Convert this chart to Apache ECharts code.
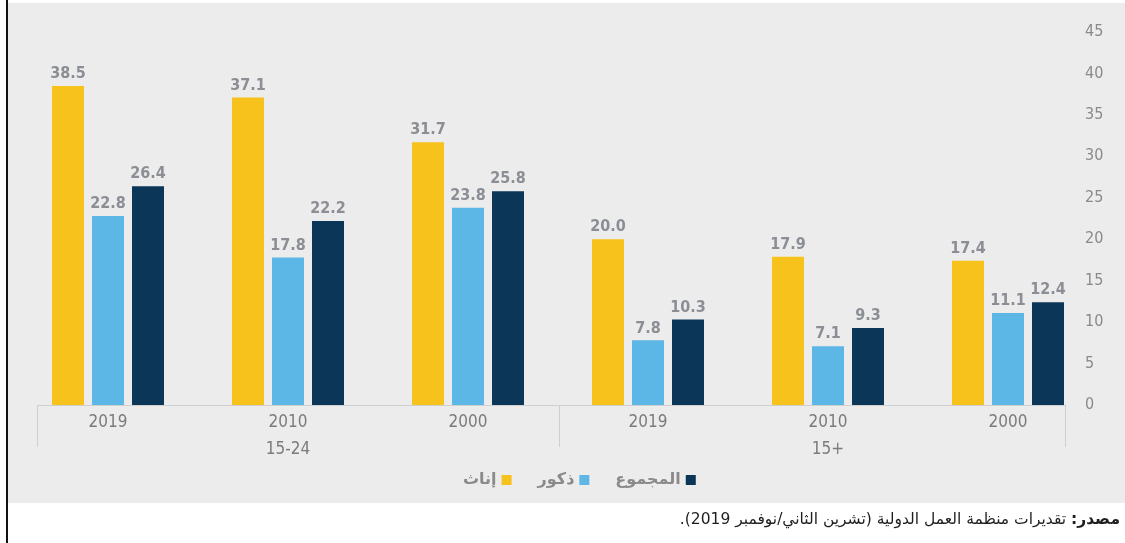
<!DOCTYPE html>
<html>
<head>
<meta charset="utf-8">
<script src="https://cdn.jsdelivr.net/npm/echarts@6/dist/echarts.min.js"></script>
<style>
  html, body { margin: 0; padding: 0; background: #ffffff; }
  #wrap { position: relative; width: 1125px; height: 543px; overflow: hidden; }
  #panel { position: absolute; left: 8px; top: 3px; width: 1117px; height: 500px; background: #ececec; }
  #rule { position: absolute; left: 6px; top: 0; width: 2px; height: 543px; background: #111; }
  #chart { position: absolute; left: 0; top: 0; width: 1125px; height: 543px; }
  #source { position: absolute; right: 5px; top: 510px; direction: rtl; font-family: 'DejaVu Sans', 'Noto Sans', sans-serif; font-size: 15.5px; color: #1e1e1e; white-space: nowrap; }
  #source b { font-weight: bold; }
</style>
</head>
<body>
<div id="wrap">
  <div id="panel"></div>
  <div id="rule"></div>
  <div id="chart"></div>
  <div id="source" dir="rtl"><b>مصدر:</b> تقديرات منظمة العمل الدولية (تشرين الثاني/نوفمبر 2019).</div>
</div>
<script>
// ---- data ----
var years = ['2019', '2010', '2000', '2019', '2010', '2000'];
var ageGroups = ['15-24', '15+'];
var seriesNames = ['إناث', 'ذكور', 'المجموع'];
var females = [38.5, 37.1, 31.7, 20.0, 17.9, 17.4];
var males = [22.8, 17.8, 23.8, 7.8, 7.1, 11.1];
var total = [26.4, 22.2, 25.8, 10.3, 9.3, 12.4];
var yTicks = { min: 0, max: 45, interval: 5 };

// ---- chart ----
var FONT = "'DejaVu Sans Condensed', 'Liberation Sans Narrow', 'Roboto', sans-serif";
var colors = ['#f7c21b', '#5cb6e6', '#0c3657'];
var chart = echarts.init(document.getElementById('chart'), null, { renderer: 'canvas' });

function barSeries(name, data, color) {
  return {
    name: name,
    type: 'bar',
    data: data,
    barWidth: 32,
    barGap: '25%',
    itemStyle: { color: color },
    label: {
      show: true,
      position: 'top',
      distance: 4,
      color: '#8b8e94',
      fontFamily: FONT,
      fontSize: 16,
      fontWeight: 'bold',
      formatter: function (p) { return p.value.toFixed(1); }
    }
  };
}

var option = {
  backgroundColor: 'transparent',
  animation: false,
  grid: { left: 18, width: 1080, top: 32, height: 373, containLabel: false },
  legend: {
    data: seriesNames,
    left: 458,
    top: 467,
    align: 'right',
    icon: 'rect',
    itemWidth: 10,
    itemHeight: 10,
    itemGap: 26,
    textStyle: { color: '#8a8a8a', fontSize: 16, fontWeight: 'bold', fontFamily: "'DejaVu Sans', sans-serif" }
  },
  xAxis: [
    {
      type: 'category',
      data: years,
      axisLine: { show: false },
      axisTick: { show: false },
      axisLabel: { color: '#7b7b7b', fontSize: 17, fontFamily: FONT, margin: 9 }
    },
    {
      type: 'category',
      data: ageGroups,
      position: 'bottom',
      offset: 28,
      axisLine: { show: false },
      axisTick: { show: false },
      axisLabel: { color: '#7b7b7b', fontSize: 17, fontFamily: FONT, margin: 8 }
    }
  ],
  yAxis: {
    type: 'value',
    position: 'right',
    min: yTicks.min,
    max: yTicks.max,
    interval: yTicks.interval,
    axisLine: { show: false },
    axisTick: { show: false },
    splitLine: { show: false },
    axisLabel: { color: '#8a8a8a', fontSize: 16, fontFamily: FONT, align: 'left', margin: -13 }
  },
  graphic: [
    { type: 'line', shape: { x1: 37, y1: 405.5, x2: 1065, y2: 405.5 }, style: { stroke: '#cfcfcf', lineWidth: 1 } },
    { type: 'line', shape: { x1: 37.5, y1: 405, x2: 37.5, y2: 447 }, style: { stroke: '#cfcfcf', lineWidth: 1 } },
    { type: 'line', shape: { x1: 559.5, y1: 405, x2: 559.5, y2: 447 }, style: { stroke: '#cfcfcf', lineWidth: 1 } },
    { type: 'line', shape: { x1: 1065.5, y1: 405, x2: 1065.5, y2: 447 }, style: { stroke: '#cfcfcf', lineWidth: 1 } }
  ],
  series: [
    barSeries(seriesNames[0], females, colors[0]),
    barSeries(seriesNames[1], males, colors[1]),
    barSeries(seriesNames[2], total, colors[2])
  ]
};
chart.setOption(option);
</script>
</body>
</html>
